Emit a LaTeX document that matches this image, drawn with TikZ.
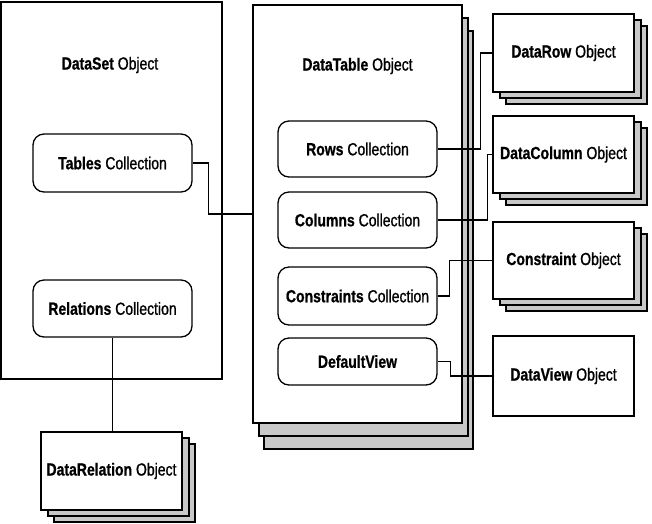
\documentclass[tikz,border=0pt]{standalone}
\usepackage{fontspec}
\setmainfont{Liberation Sans}[FakeStretch=0.8,UprightFeatures={FakeBold=1},BoldFeatures={FakeBold=0.8}]
\usetikzlibrary{shadows}
\definecolor{stackgray}{HTML}{C8C8C8}
\begin{document}
\begin{tikzpicture}[x=1pt,y=-1pt,line width=1.3pt,
  font=\fontsize{17.5}{20}\selectfont,
  box/.style={draw,fill=white,rectangle,inner sep=0pt,minimum width=#1},
  coll/.style={draw,fill=white,rounded corners=11pt,inner sep=0pt,minimum width=159pt},
  stacksmall/.style={
    general shadow={shadow xshift=13pt,shadow yshift=-12pt,fill=stackgray,draw=black,line width=1.3pt},
    general shadow={shadow xshift=7pt,shadow yshift=-6pt,fill=stackgray,draw=black,line width=1.3pt}},
  stackbig/.style={
    general shadow={shadow xshift=11pt,shadow yshift=-26pt,fill=stackgray,draw=black,line width=1.3pt},
    general shadow={shadow xshift=6pt,shadow yshift=-13pt,fill=stackgray,draw=black,line width=1.3pt}},
  wire/.style={draw,line width=1.3pt}]
\useasboundingbox (0,0) rectangle (652,523);

% DataSet
\node[box=221pt,minimum height=377pt] (dataset) at (111.5,190.5) {};
\node (dstitle) at (110,65) {\textbf{DataSet} Object};
\node[coll,minimum height=58pt] (tables) at (112.5,163) {\textbf{Tables} Collection};
\node[coll,minimum height=57pt] (relations) at (112.5,308.5) {\textbf{Relations} Collection};

% DataRelation
\node[box=141pt,minimum height=78pt,stacksmall] (datarel) at (111.5,471) {\textbf{DataRelation} Object};

% DataTable
\node[box=209pt,minimum height=418pt,stackbig] (datatable) at (357.5,214) {};
\node (dttitle) at (357.5,66) {\textbf{DataTable} Object};
\node[coll,minimum height=56pt] (rows) at (357.5,149) {\textbf{Rows} Collection};
\node[coll,minimum height=56pt] (columns) at (357.5,220) {\textbf{Columns} Collection};
\node[coll,minimum height=58pt] (constraints) at (357.5,296) {\textbf{Constraints} Collection};
\node[coll,minimum height=47pt] (defaultview) at (357.5,361.5) {\textbf{DefaultView}};

% Right objects
\node[box=141pt,minimum height=78pt,stacksmall] (datarow) at (563.5,53) {\textbf{DataRow} Object};
\node[box=141pt,minimum height=77pt,stacksmall] (datacolumn) at (563.5,154.5) {\textbf{DataColumn} Object};
\node[box=141pt,minimum height=77pt,stacksmall] (constraint) at (563.5,260.5) {\textbf{Constraint} Object};
\node[box=141pt,minimum height=80pt] (dataview) at (563.5,376) {\textbf{DataView} Object};

% Connectors
\draw[wire] (tables.east) -- ++(16,0) |- (datatable.west);
\draw[wire] (relations.south) -- (relations.south |- datarel.north);
\draw[wire] (rows.east) -- ++(43,0) |- (datarow.west);
\draw[wire] (columns.east) -- ++(50,0) |- (datacolumn.west);
\draw[wire] (constraints.east) -- ++(12,0) |- (constraint.west);
\draw[wire] (defaultview.east) -- ++(13,0) |- (dataview.west);
\end{tikzpicture}
\end{document}
